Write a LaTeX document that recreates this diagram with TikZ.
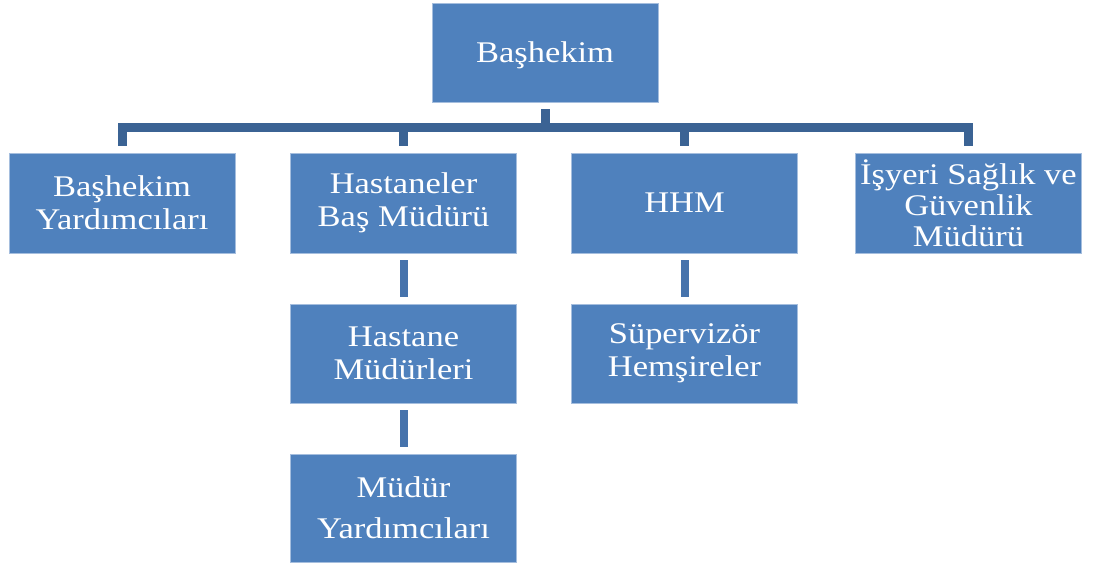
\documentclass[tikz,border=0pt]{standalone}
\usepackage{fontspec}
\setmainfont{Liberation Serif}
\newfontfamily\boxfont[FakeStretch=1.15]{Liberation Serif}
\definecolor{boxfill}{RGB}{79,129,189}
\definecolor{boxedge}{RGB}{165,190,222}
\definecolor{busline}{RGB}{59,99,148}
\definecolor{linkline}{RGB}{70,115,172}
\begin{document}
\begin{tikzpicture}[x=1pt,y=-1pt,
  unit/.style={rectangle, fill=boxfill, draw=boxedge, line width=0.8pt,
    minimum width=226pt, minimum height=100pt, inner sep=0pt,
    text=white, align=center, font={\boxfont\fontsize{30}{33}\selectfont}},
  bus/.style={draw=busline, line width=9pt, line join=miter, line cap=butt},
  link/.style={draw=linkline, line width=8pt, line cap=butt}]
\useasboundingbox (0,0) rectangle (1093,567);

% top level
\node[unit, minimum height=99pt, text height=21pt, text depth=0pt] (top)
  at (545,52.5) {Başhekim};

% second level
\node[unit] (b1) at (122,203) {Başhekim\\Yardımcıları};
\node[unit] (b2) at (403.5,203) {Hastaneler\\Baş Müdürü};
\node[unit] (b3) at (684.5,203) {HHM};
\node[unit, font={\boxfont\fontsize{30}{31}\selectfont}] (b4) at (968.5,203)
  {İşyeri Sağlık ve\\Güvenlik\\Müdürü};

% third level
\node[unit, minimum height=99pt] (c2) at (403.5,353.5) {Hastane\\Müdürleri};
\node[unit, minimum height=99pt] (c3) at (684.5,353.5) {Süpervizör\\Hemşireler};

% fourth level
\node[unit, minimum height=108pt, font={\boxfont\fontsize{30}{41}\selectfont}]
  (d2) at (403.5,508) {Müdür\\Yardımcıları};

% bus connecting the top box to the second level
\coordinate (bus) at (545,128);
\draw[bus] ([yshift=-7pt]top.south) -- (top.south |- bus);
\draw[bus] ([yshift=7pt]b1.north) -- (b1.north |- bus) -- (b4.north |- bus)
  -- ([yshift=7pt]b4.north);
\draw[bus] (b2.north |- bus) -- ([yshift=7pt]b2.north);
\draw[bus] (b3.north |- bus) -- ([yshift=7pt]b3.north);

% vertical links below
\draw[link] ([yshift=-7pt]b2.south) -- ([yshift=7pt]c2.north);
\draw[link] ([yshift=-7pt]c2.south) -- ([yshift=7pt]d2.north);
\draw[link] ([yshift=-7pt]b3.south) -- ([yshift=7pt]c3.north);
\end{tikzpicture}
\end{document}
